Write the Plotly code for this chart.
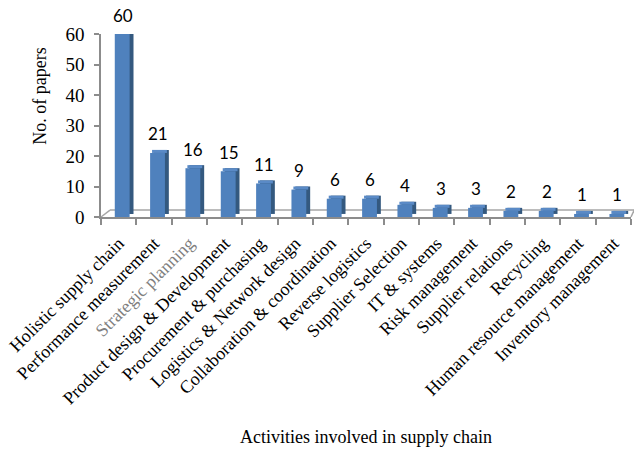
import plotly.graph_objects as go

categories = [
    "Holistic supply chain", "Performance measurement", "Strategic planning",
    "Product design & Development", "Procurement & purchasing",
    "Logistics & Network design", "Collaboration & coordination",
    "Reverse logistics", "Supplier Selection", "IT & systems",
    "Risk management", "Supplier relations", "Recycling",
    "Human resource management", "Inventory management",
]
values = [60, 21, 16, 15, 11, 9, 6, 6, 4, 3, 3, 2, 2, 1, 1]
label_colors = ["black"] * len(categories)
label_colors[2] = "#7f7f7f"
y_ticks = [0, 10, 20, 30, 40, 50, 60]

FRONT = "#4F81BD"
TOP = "#5A8AC6"
SIDE = "#34597F"
AXIS = "#8C8C8C"
SERIF = "Liberation Serif, Times New Roman, serif"

W = 0.42
OFF = -0.11
DX = 0.11
DY = 1.0

fig = go.Figure()
# side face (back)
fig.add_trace(go.Bar(x=categories, y=values, base=[DY] * len(values),
                     width=W, offset=OFF + DX, marker=dict(color=SIDE, line=dict(width=0)),
                     hoverinfo="skip", showlegend=False))
# top face
fig.add_trace(go.Bar(x=categories, y=[DY] * len(values), base=values,
                     width=W, offset=OFF + DX / 2, marker=dict(color=TOP, line=dict(width=0)),
                     hoverinfo="skip", showlegend=False))
# front face
fig.add_trace(go.Bar(x=categories, y=values, width=W, offset=OFF,
                     marker=dict(color=FRONT, line=dict(width=0)),
                     hoverinfo="skip", showlegend=False))

annotations = []
for c, v in zip(categories, values):
    annotations.append(dict(x=c, y=v, xref="x", yref="y", text=str(v), showarrow=False,
                            xshift=4, yshift=19, yanchor="middle",
                            font=dict(family="Lato, Carlito, sans-serif", size=17, color="black")))
annotations.append(dict(x=0.5, y=-1.2, xref="paper", yref="paper", showarrow=False,
                        text="Activities involved in supply chain", yanchor="middle",
                        font=dict(family=SERIF, size=18, color="black")))
annotations.append(dict(x=-0.115, y=0.657, xref="paper", yref="paper", showarrow=False,
                        text="No. of papers", textangle=-90, xanchor="center", yanchor="middle",
                        font=dict(family=SERIF, size=18, color="black")))

ticktext = [f"<span style='color:{col}'>{c}</span>" for c, col in zip(categories, label_colors)]

shapes = [
    dict(type="line", xref="paper", yref="paper", x0=0.017, x1=1.006, y0=0.038, y1=0.038,
         line=dict(color="#A6A6A6", width=1.5), layer="below"),
    dict(type="line", xref="paper", yref="paper", x0=0, x1=0.017, y0=0, y1=0.038,
         line=dict(color="#A6A6A6", width=1.5), layer="below"),
    dict(type="line", xref="paper", yref="paper", x0=1.0, x1=1.006, y0=0, y1=0.038,
         line=dict(color="#A6A6A6", width=1.5), layer="below"),
]

fig.update_layout(
    width=634, height=450,
    margin=dict(l=101, r=3, t=34, b=233),
    paper_bgcolor="white", plot_bgcolor="white",
    barmode="overlay",
    annotations=annotations,
    shapes=shapes,
    xaxis=dict(type="category", categoryorder="array", categoryarray=categories,
               tickvals=categories, ticktext=ticktext, tickangle=-45,
               tickfont=dict(family=SERIF, size=18, color="black"),
               showline=True, linecolor=AXIS, linewidth=1.5,
               ticks="outside", tickson="boundaries", ticklen=6, tickcolor=AXIS, tickwidth=1.5,
               ticklabelstandoff=7,
               showgrid=False, range=[-0.5, 14.5]),
    yaxis=dict(range=[0, 60], tickvals=y_ticks, showgrid=False, zeroline=False,
               showline=True, linecolor=AXIS, linewidth=1.5,
               ticks="outside", ticklen=5, tickcolor=AXIS, tickwidth=1.5,
               tickfont=dict(family=SERIF, size=19, color="black"), ticklabelstandoff=6),
)

fig.write_html("out.html")
